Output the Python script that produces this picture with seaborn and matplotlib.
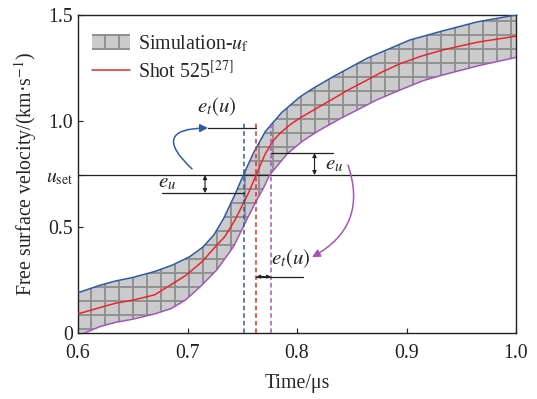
import numpy as np
import pandas as pd
import matplotlib
matplotlib.use("Agg")
import matplotlib.pyplot as plt
import seaborn as sns
from matplotlib.patches import Patch, FancyArrowPatch
from matplotlib.lines import Line2D

# ---------------- data ----------------
t_upper = [0.600, 0.620, 0.634, 0.650, 0.670, 0.686, 0.702, 0.714, 0.724, 0.733,
           0.7435, 0.751, 0.760, 0.771, 0.786, 0.803, 0.815, 0.833, 0.864, 0.903,
           0.933, 0.965, 1.000]
v_upper = [0.19, 0.225, 0.245, 0.262, 0.29, 0.32, 0.36, 0.405, 0.462, 0.54,
           0.655, 0.745, 0.847, 0.95, 1.04, 1.115, 1.155, 1.209, 1.296, 1.382,
           1.425, 1.468, 1.50]

t_shot = [0.600, 0.620, 0.634, 0.650, 0.670, 0.684, 0.698, 0.713, 0.726, 0.734,
          0.7434, 0.7556, 0.7626, 0.771, 0.778, 0.785, 0.793, 0.803, 0.818, 0.833,
          0.848, 0.864, 0.878, 0.894, 0.913, 0.933, 0.965, 1.000]
v_shot = [0.09, 0.12, 0.14, 0.155, 0.18, 0.225, 0.27, 0.335, 0.41, 0.454,
          0.533, 0.659, 0.745, 0.845, 0.905, 0.945, 0.98, 1.015, 1.06, 1.105,
          1.15, 1.193, 1.232, 1.27, 1.305, 1.335, 1.372, 1.40]

t_lower = [0.600, 0.606, 0.620, 0.634, 0.650, 0.670, 0.685, 0.698, 0.712, 0.7266,
           0.742, 0.7556, 0.763, 0.769, 0.775, 0.791, 0.805, 0.820, 0.839, 0.858,
           0.873, 0.894, 0.915, 0.933, 0.965, 1.000]
v_lower = [-0.02, 0.0, 0.03, 0.05, 0.065, 0.09, 0.115, 0.155, 0.22, 0.297,
           0.407, 0.55, 0.625, 0.68, 0.745, 0.845, 0.905, 0.955, 1.01, 1.06,
           1.10, 1.146, 1.19, 1.217, 1.26, 1.30]

u_set = 0.745
t_cross = [0.752, 0.763, 0.776]        # blue, red, purple crossing times
x_ticks = [0.6, 0.7, 0.8, 0.9, 1.0]
x_ticklabels = ["0.6", "0.7", "0.8", "0.9", "1.0"]
y_ticks = [0, 0.5, u_set, 1.0, 1.5]
y_ticklabels = ["0", "0.5", r"$u_{\rm set}$", "1.0", "1.5"]

# ---------------- style ----------------
sns.set_style("ticks")
plt.rcParams["font.family"] = ["Liberation Serif", "DejaVu Serif"]
plt.rcParams["mathtext.fontset"] = "stix"
plt.rcParams["hatch.linewidth"] = 1.6

BLUE = "#2d5aa8"
RED = "#e8262a"
PURPLE = "#a653b8"
FILL = "#cbcbcd"
HATCH = "#8e8e8e"
FS = 17

DPI = 84
fig = plt.figure(figsize=(537 / DPI, 399 / DPI), dpi=DPI)
ax = fig.add_axes([78 / 537, 66 / 399, (516 - 78) / 537, (333 - 15) / 399])

# band
poly_t = np.concatenate([t_upper, t_lower[::-1]])
poly_v = np.concatenate([v_upper, v_lower[::-1]])
ax.fill(poly_t, poly_v, facecolor=FILL, edgecolor=HATCH, hatch="+", linewidth=0, zorder=1)

df_u = pd.DataFrame({"t": t_upper, "v": v_upper})
df_s = pd.DataFrame({"t": t_shot, "v": v_shot})
df_l = pd.DataFrame({"t": t_lower, "v": v_lower})
sns.lineplot(data=df_u, x="t", y="v", color=BLUE, lw=1.3, ax=ax, estimator=None, zorder=3)
sns.lineplot(data=df_l, x="t", y="v", color=PURPLE, lw=1.3, ax=ax, estimator=None, zorder=3)
sns.lineplot(data=df_s, x="t", y="v", color=RED, lw=1.3, ax=ax, estimator=None, zorder=4)

# u_set line
ax.axhline(u_set, color="#222222", lw=1.1, zorder=2)

# dashed verticals
for tc, c in zip(t_cross, [BLUE, RED, PURPLE]):
    ax.plot([tc, tc], [0, 1.0], color=c, lw=1.3, ls=(0, (3, 2)), zorder=5)

K = "#222222"
# e_t(u) top
ax.plot([0.7187, t_cross[1]], [0.967, 0.967], color=K, lw=1.1, zorder=5)
ax.text(0.727, 1.07, r"$e_t(u)$", fontsize=FS + 1, ha="center", va="center")
# e_u top
ax.plot([t_cross[2], 0.833], [0.849, 0.849], color=K, lw=1.1, zorder=5)
ax.annotate("", xy=(0.816, 0.849), xytext=(0.816, u_set),
            arrowprops=dict(arrowstyle="<|-|>", color=K, lw=1.0, mutation_scale=7,
                            shrinkA=0, shrinkB=0))
ax.text(0.826, 0.795, r"$e_u$", fontsize=FS + 1, ha="left", va="center")
# e_u bottom
ax.plot([0.677, t_cross[0]], [0.66, 0.66], color=K, lw=1.1, zorder=5)
ax.annotate("", xy=(0.716, 0.66), xytext=(0.716, u_set),
            arrowprops=dict(arrowstyle="<|-|>", color=K, lw=1.0, mutation_scale=7,
                            shrinkA=0, shrinkB=0))
ax.text(0.681, 0.71, r"$e_u$", fontsize=FS + 1, ha="center", va="center")
# e_t(u) bottom
ax.plot([t_cross[1], 0.8055], [0.266, 0.266], color=K, lw=1.1, zorder=5)
ax.annotate("", xy=(t_cross[1], 0.266), xytext=(t_cross[2], 0.266),
            arrowprops=dict(arrowstyle="<|-|>", color=K, lw=1.0, mutation_scale=6,
                            shrinkA=0, shrinkB=0))
ax.text(0.7945, 0.352, r"$e_t(u)$", fontsize=FS + 1, ha="center", va="center")

# curved arrows
a1 = FancyArrowPatch((0.7041, 0.774), (0.7187, 0.967), connectionstyle="arc3,rad=-1.25",
                     arrowstyle="-|>", mutation_scale=14, color=BLUE, lw=1.3,
                     shrinkA=0, shrinkB=0, zorder=6)
ax.add_patch(a1)
a2 = FancyArrowPatch((0.8466, 0.792), (0.8137, 0.358), connectionstyle="arc3,rad=-0.42",
                     arrowstyle="-|>", mutation_scale=14, color=PURPLE, lw=1.3,
                     shrinkA=0, shrinkB=0, zorder=6)
ax.add_patch(a2)

# axes
ax.set_xlim(0.6, 1.0)
ax.set_ylim(0, 1.5)
ax.set_xticks(x_ticks)
ax.set_xticklabels(x_ticklabels)
ax.set_yticks(y_ticks)
ax.set_yticklabels(y_ticklabels)
ax.tick_params(direction="in", length=4, width=1.0, labelsize=FS, colors="#222222")
ax.tick_params(axis="x", pad=9)
ax.tick_params(axis="y", pad=4)
for s in ax.spines.values():
    s.set_linewidth(1.2)
    s.set_color("#222222")
ax.set_xlabel("Time/μs", fontsize=FS, labelpad=10)
ax.set_ylabel(r"Free surface velocity/(km·s$^{-1}$)", fontsize=FS, labelpad=6)

handles = [Patch(facecolor=FILL, edgecolor=HATCH, hatch="+", linewidth=0),
           Line2D([], [], color=RED, lw=1.3)]
labels = [r"Simulation-$u_{\rm f}$", r"Shot 525$^{[27]}$"]
ax.legend(handles, labels, loc="upper left", bbox_to_anchor=(0.005, 0.98), frameon=False,
          fontsize=FS, handlelength=1.9, handleheight=0.9, handletextpad=0.4,
          labelspacing=0.35, borderaxespad=0.2)

fig.savefig("out.png", dpi=DPI)
